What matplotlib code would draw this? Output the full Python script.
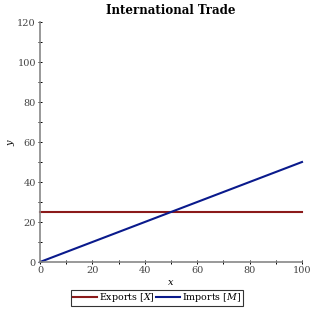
import matplotlib
matplotlib.use("Agg")
import matplotlib.pyplot as plt
from matplotlib.ticker import MultipleLocator

x_vals = [0, 100]
exports = [25, 25]
imports = [0, 50]
title = "International Trade"
labels = ["Exports [$X$]", "Imports [$M$]"]

plt.rcParams['font.family'] = ['DejaVu Serif']
plt.rcParams['mathtext.fontset'] = 'dejavuserif'

fig = plt.figure(figsize=(3.14, 3.14), dpi=100)
ax = fig.add_axes([40/314, 52/314, 262/314, 240/314])
ax.plot(x_vals, exports, color='#8b1a1a', lw=1.5, label=labels[0], clip_on=False)
ax.plot(x_vals, imports, color='#0a1a8c', lw=1.5, label=labels[1], clip_on=False)
ax.set_xlim(0, 100)
ax.set_ylim(0, 120)
for s in ['top', 'right']:
    ax.spines[s].set_visible(False)
for s in ['left', 'bottom']:
    ax.spines[s].set_color('#888888')
    ax.spines[s].set_linewidth(1.2)
ax.xaxis.set_major_locator(MultipleLocator(20))
ax.xaxis.set_minor_locator(MultipleLocator(10))
ax.yaxis.set_major_locator(MultipleLocator(20))
ax.yaxis.set_minor_locator(MultipleLocator(10))
ax.tick_params(which='both', direction='inout', length=3, width=0.7, color='black',
               labelsize=7, labelcolor='#444444', pad=1.5)
ax.set_title(title, fontsize=8.5, fontweight='bold', pad=6)
ax.set_xlabel("$x$", fontsize=7, labelpad=2)
ax.set_ylabel("$y$", fontsize=7, labelpad=0)
leg = fig.legend(loc='center', bbox_to_anchor=(157/314, 1 - 298/314), ncol=2,
                 fontsize=6.8, frameon=True, fancybox=False, edgecolor='black',
                 handlelength=2.6, handletextpad=0.2, columnspacing=0.1,
                 borderpad=0.2, borderaxespad=0)
leg.get_frame().set_linewidth(0.8)
fig.savefig("out.png", dpi=100)
